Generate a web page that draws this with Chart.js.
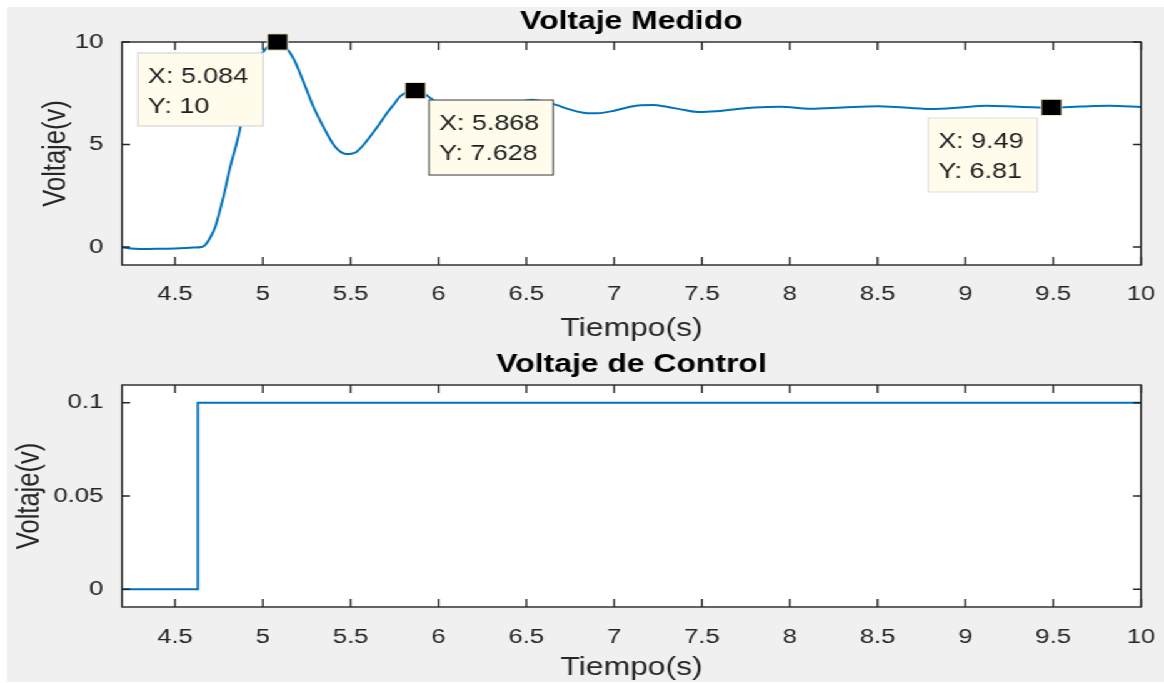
<!DOCTYPE html>
<html lang="es">
<head>
<meta charset="utf-8">
<title>Voltaje Medido / Voltaje de Control</title>
<script src="https://cdn.jsdelivr.net/npm/chart.js@4.4.1/dist/chart.umd.min.js"></script>
<style>
    html, body { margin: 0; padding: 0; background: #ffffff; width: 1164px; height: 683px; overflow: hidden; }
    #backdrop { position: absolute; left: 7px; top: 7px; width: 1157px; height: 675px; background: #f0f0f0; }
    /* figure is laid out narrow and stretched sideways, like the exported figure */
    #figure { position: absolute; left: 0; top: 0; width: 931px; height: 683px; transform: scaleX(1.2503); transform-origin: 0 0; }
    .panel { position: absolute; left: 0; width: 931px; }
    #panelTop { top: 0; height: 345px; }
    #panelBottom { top: 345px; height: 338px; }
</style>
</head>
<body>
<div id="backdrop"></div>
<div id="figure">
    <div class="panel" id="panelTop"><canvas id="medidoChart"></canvas></div>
    <div class="panel" id="panelBottom"><canvas id="controlChart"></canvas></div>
</div>
<script>
// --- Data ---
const tiempo = [
    4.20, 4.25, 4.30, 4.40, 4.50, 4.60, 4.65, 4.67, 4.70, 4.73,
    4.756, 4.78, 4.81, 4.86, 4.90, 4.946, 4.98, 5.003, 5.04, 5.084,
    5.11, 5.145, 5.18, 5.212, 5.25, 5.288, 5.33, 5.364, 5.40, 5.42,
    5.45, 5.478, 5.51, 5.535, 5.57, 5.61, 5.66, 5.706, 5.75, 5.78,
    5.82, 5.868, 5.90, 5.93, 5.97, 6.05, 6.12, 6.20, 6.28, 6.36,
    6.45, 6.53, 6.60, 6.67, 6.75, 6.825, 6.87, 6.92, 7.00, 7.08,
    7.15, 7.22, 7.30, 7.40, 7.49, 7.58, 7.68, 7.80, 7.945, 8.12,
    8.30, 8.50, 8.65, 8.82, 8.97, 9.12, 9.30, 9.49, 9.65, 9.82, 10.0
];
const voltajeMedido = [
    -0.02, -0.08, -0.10, -0.09, -0.07, -0.03, 0.00, 0.08, 0.45, 1.00,
    1.80, 2.60, 3.76, 5.38, 7.00, 8.47, 9.20, 9.53, 9.85, 10.0,
    9.90, 9.60, 9.10, 8.47, 7.65, 6.84, 6.10, 5.55, 5.02, 4.81,
    4.60, 4.53, 4.56, 4.65, 4.95, 5.38, 5.95, 6.52, 7.00, 7.33,
    7.55, 7.628, 7.55, 7.41, 7.17, 6.70, 6.40, 6.30, 6.45, 6.75,
    7.05, 7.18, 7.10, 6.93, 6.70, 6.55, 6.52, 6.53, 6.65, 6.82,
    6.92, 6.93, 6.84, 6.68, 6.58, 6.62, 6.71, 6.80, 6.84, 6.74,
    6.80, 6.86, 6.80, 6.73, 6.80, 6.89, 6.84, 6.81, 6.85, 6.89, 6.83
];

const tiempoControl = [4.20, 4.63, 4.63, 10.0];
const voltajeControl = [0, 0, 0.1, 0.1];

// data tips shown on the measured voltage
const tipX = [5.084, 5.868, 9.49];
const tipY = [10, 7.628, 6.81];

const ticksTiempo = [4.5, 5, 5.5, 6, 6.5, 7, 7.5, 8, 8.5, 9, 9.5, 10];
const ticksMedido = [0, 5, 10];
const ticksControl = [0, 0.05, 0.1];

// --- Look ---
const lineColor = '#0072BD';
const axisColor = '#262626';
const fontFamily = '"Liberation Sans", Arial, Helvetica, sans-serif';

// box offset from its point, in chart pixels
const tipPlacement = [
    { dx: -111.7, dy: 11, w: 100, h: 73, border: '#d6d6d6' },
    { dx: 11.0, dy: 9.4, w: 99.2, h: 75, border: '#595959' },
    { dx: -98.5, dy: 10.6, w: 87.2, h: 74, border: '#e2e2e2' }
];

Chart.defaults.font.family = fontFamily;
Chart.defaults.color = axisColor;

// white plot area, boxed frame and inward tick marks on all four sides
const plotFrame = {
    id: 'plotFrame',
    beforeDraw(chart) {
        const { ctx, chartArea: a } = chart;
        ctx.save();
        ctx.fillStyle = '#ffffff';
        ctx.fillRect(a.left, a.top, a.right - a.left, a.bottom - a.top);
        ctx.restore();
    },
    afterDatasetDraw(chart, args) {
        if (args.index !== 0) return;
        const { ctx, chartArea: a, scales: { x, y } } = chart;
        ctx.save();
        ctx.strokeStyle = axisColor;
        ctx.lineWidth = 1.4;
        ctx.strokeRect(a.left, a.top, a.right - a.left, a.bottom - a.top);
        ctx.beginPath();
        x.ticks.forEach(t => {
            const px = x.getPixelForValue(t.value);
            ctx.moveTo(px, a.bottom); ctx.lineTo(px, a.bottom - 8);
            ctx.moveTo(px, a.top); ctx.lineTo(px, a.top + 8);
        });
        y.ticks.forEach(t => {
            const py = y.getPixelForValue(t.value);
            ctx.moveTo(a.left, py); ctx.lineTo(a.left + 6.4, py);
            ctx.moveTo(a.right, py); ctx.lineTo(a.right - 6.4, py);
        });
        ctx.stroke();
        ctx.restore();
    }
};

// datatip boxes ("X: ..", "Y: ..") next to each marked point
const dataTips = {
    id: 'dataTips',
    afterDatasetsDraw(chart) {
        const { ctx, scales: { x, y } } = chart;
        ctx.save();
        ctx.font = '21.5px ' + fontFamily;
        ctx.textBaseline = 'middle';
        tipX.forEach((tx, i) => {
            const p = tipPlacement[i];
            const left = x.getPixelForValue(tx) + p.dx;
            const top = y.getPixelForValue(tipY[i]) + p.dy;
            ctx.fillStyle = '#fffcec';
            ctx.fillRect(left, top, p.w, p.h);
            ctx.strokeStyle = p.border;
            ctx.lineWidth = 1.2;
            ctx.strokeRect(left, top, p.w, p.h);
            ctx.fillStyle = '#1e1e1e';
            ctx.fillText('X: ' + tx, left + 8, top + 24);
            ctx.fillText('Y: ' + tipY[i], left + 8, top + 54);
        });
        ctx.restore();
    }
};

function timeAxis(labelPad, titlePad, height) {
    return {
        type: 'linear',
        min: 4.198,
        max: 10,
        afterBuildTicks: s => { s.ticks = ticksTiempo.map(v => ({ value: v })); },
        afterFit: s => {
            s.height = height;
            s.paddingLeft = 0;
            s.paddingRight = 0;
        },
        grid: { display: false, drawTicks: false },
        border: { display: false },
        ticks: { font: { size: 20.5 }, color: axisColor, padding: labelPad, maxRotation: 0, callback: v => String(v) },
        title: { display: true, text: 'Tiempo(s)', font: { size: 25.5 }, color: axisColor, padding: { top: 0, bottom: titlePad } }
    };
}

function voltAxis(min, max, tickList, titlePad) {
    return {
        min: min,
        max: max,
        afterBuildTicks: s => { s.ticks = tickList.map(v => ({ value: v })); },
        afterFit: s => { s.width = 97.58; },
        grid: { display: false, drawTicks: false },
        border: { display: false },
        ticks: { font: { size: 20.5 }, color: axisColor, padding: 15, callback: v => String(v) },
        title: { display: true, text: 'Voltaje(v)', font: { size: 25.5 }, color: axisColor, padding: { top: titlePad, bottom: 0 } }
    };
}

document.addEventListener('DOMContentLoaded', () => {

    // --- 1. Voltaje Medido ---
    new Chart(document.getElementById('medidoChart').getContext('2d'), {
        type: 'line',
        data: {
            datasets: [{
                label: 'Voltaje medido',
                data: tiempo.map((t, i) => ({ x: t, y: voltajeMedido[i] })),
                borderColor: lineColor,
                borderWidth: 2,
                pointRadius: 0,
                cubicInterpolationMode: 'monotone',
                order: 1
            }, {
                label: 'Marcas',
                data: tipX.map((t, i) => ({ x: t, y: tipY[i] })),
                showLine: false,
                pointStyle: 'rect',
                pointRadius: 11.5,
                backgroundColor: '#000000',
                borderColor: '#efe7c4',
                borderWidth: 1,
                clip: false,
                order: 0
            }]
        },
        options: {
            responsive: true,
            maintainAspectRatio: false,
            animation: false,
            events: [],
            layout: { padding: { left: 0, right: 18.4, top: 0, bottom: 0 } },
            plugins: {
                legend: { display: false },
                tooltip: { enabled: false },
                title: {
                    display: true,
                    text: 'Voltaje Medido',
                    fullSize: false,
                    color: '#000000',
                    font: { size: 25.5, weight: 'bold' },
                    padding: { top: 7, bottom: 4.4 }
                }
            },
            scales: {
                x: timeAxis(17, 1, 80),
                y: voltAxis(-0.88, 10, ticksMedido, 29.3)
            }
        },
        plugins: [plotFrame, dataTips]
    });

    // --- 2. Voltaje de Control ---
    new Chart(document.getElementById('controlChart').getContext('2d'), {
        type: 'line',
        data: {
            datasets: [{
                label: 'Voltaje de control',
                data: tiempoControl.map((t, i) => ({ x: t, y: voltajeControl[i] })),
                borderColor: lineColor,
                borderWidth: 2,
                pointRadius: 0
            }]
        },
        options: {
            responsive: true,
            maintainAspectRatio: false,
            animation: false,
            events: [],
            layout: { padding: { left: 0, right: 18.4, top: 0, bottom: 0 } },
            plugins: {
                legend: { display: false },
                tooltip: { enabled: false },
                title: {
                    display: true,
                    text: 'Voltaje de Control',
                    fullSize: false,
                    color: '#000000',
                    font: { size: 25.5, weight: 'bold' },
                    padding: { top: 5, bottom: 4.4 }
                }
            },
            scales: {
                x: timeAxis(18, 0, 76),
                y: voltAxis(-0.0095, 0.1095, ticksControl, 8.7)
            }
        },
        plugins: [plotFrame]
    });

});
</script>
</body>
</html>
